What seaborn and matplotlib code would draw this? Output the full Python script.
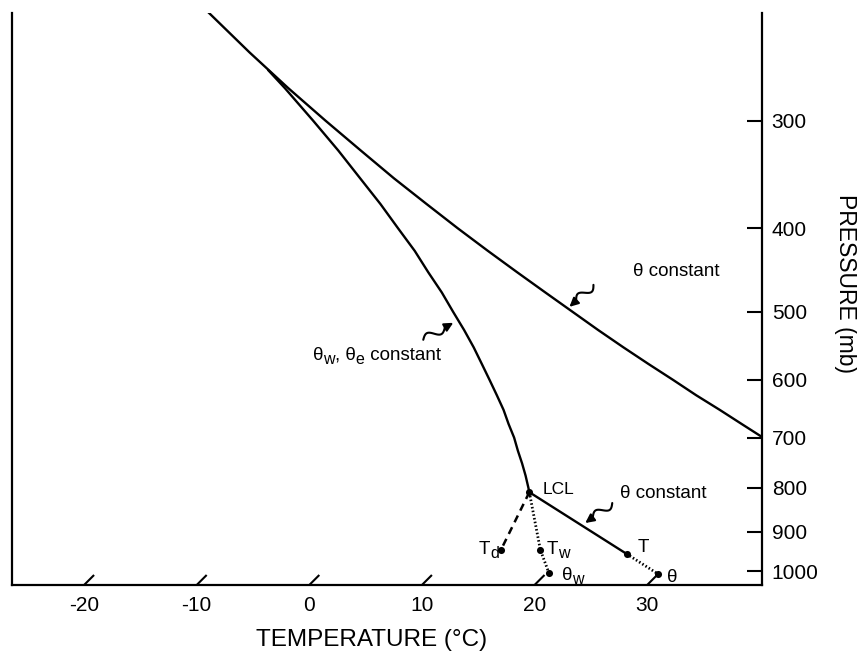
import numpy as np
import pandas as pd
import matplotlib
matplotlib.use("Agg")
import matplotlib.pyplot as plt
import seaborn as sns

# ---------------- data (temperature in deg C, pressure in mb) ----------------
dry_upper_p = [222, 250, 275, 300, 325, 350, 375, 400, 425, 450, 475, 500, 525, 550,
               575, 600, 625, 650, 675, 700, 720]
dry_upper_T = [-60.6, -52.6, -46.0, -39.8, -34.0, -28.6, -23.4, -18.5, -13.8, -9.3, -5.0,
               -0.9, 3.0, 6.8, 10.5, 14.1, 17.5, 20.9, 24.1, 27.2, 29.7]

moist_p = [262, 275, 300, 325, 350, 375, 400, 425, 450, 475, 500, 525, 550, 575, 600,
           625, 650, 675, 700, 725, 750, 775, 800, 810]
moist_T = [-49.4, -46.3, -40.9, -36.0, -31.6, -27.5, -23.8, -20.3, -17.2, -14.2, -11.5,
           -8.9, -6.5, -4.3, -2.2, -0.2, 1.7, 3.4, 5.1, 6.6, 8.1, 9.5, 10.8, 11.3]

dry_lower_T = [11.3, 25.4]          # LCL -> T (solid)
dry_lower_p = [810, 955]
dry_ext_T = [25.4, 30.0]            # T -> theta (dotted)
dry_ext_p = [955, 1008]

dew_T = [11.3, 13.9]                # LCL -> Td (dashed)
dew_p = [810, 945]
wet_T = [11.3, 17.4, 20.2]          # LCL -> Tw -> theta_w (dotted)
wet_p = [810, 945, 1005]

point_names = ["LCL", "Td", "Tw", "θw", "T", "θ"]
point_T = [11.3, 13.9, 17.4, 20.2, 25.4, 30.0]
point_p = [810, 945, 945, 1005, 955, 1008]

temp_ticks = [-20, -10, 0, 10, 20, 30]
pres_ticks = [300, 400, 500, 600, 700, 800, 900, 1000]

# ---------------- style ----------------
sns.set_style("white")
plt.rcParams["font.family"] = ["Liberation Sans", "DejaVu Sans"]

W, H = 857, 658
fig = plt.figure(figsize=(W / 100, H / 100), dpi=100)
fig.patch.set_facecolor("white")
ax_l, ax_r, ax_t, ax_b = 12, 762, 13, 585
ax = fig.add_axes([ax_l / W, 1 - ax_b / H, (ax_r - ax_l) / W, (ax_b - ax_t) / H])

P_BOT, P_TOP = 1038.0, 225.0
X_MIN, X_MAX = -26.4, 40.2
# skew so that isotherms run at 45 degrees on screen
px_per_ln = (ax_b - ax_t) / np.log(P_BOT / P_TOP)
px_per_deg = (ax_r - ax_l) / (X_MAX - X_MIN)
K = px_per_ln / px_per_deg


def skew(T, p):
    return np.asarray(T, float) + K * np.log(P_BOT / np.asarray(p, float))


def frame(T, p, name):
    return pd.DataFrame({"x": skew(T, p), "p": np.asarray(p, float), "curve": name})


ax.set_yscale("log")
ax.set_xlim(X_MIN, X_MAX)
ax.set_ylim(P_BOT, P_TOP)

lw = 1.7
dot_ls = (0, (0.55, 0.8))
sns.lineplot(data=frame(dry_upper_T, dry_upper_p, "a"), x="x", y="p", sort=False,
             estimator=None, color="black", lw=lw, ax=ax)
sns.lineplot(data=frame(moist_T, moist_p, "b"), x="x", y="p", sort=False,
             estimator=None, color="black", lw=lw, ax=ax)
sns.lineplot(data=frame(dry_lower_T, dry_lower_p, "c"), x="x", y="p", sort=False,
             estimator=None, color="black", lw=lw, ax=ax)
sns.lineplot(data=frame(dry_ext_T, dry_ext_p, "d"), x="x", y="p", sort=False,
             estimator=None, color="black", lw=2.0, ls=dot_ls, ax=ax)
sns.lineplot(data=frame(dew_T, dew_p, "e"), x="x", y="p", sort=False,
             estimator=None, color="black", lw=1.8, ls=(0, (3, 2.2)), ax=ax)
sns.lineplot(data=frame(wet_T, wet_p, "f"), x="x", y="p", sort=False,
             estimator=None, color="black", lw=2.0, ls=dot_ls, ax=ax)
sns.scatterplot(data=frame(point_T, point_p, "pts"), x="x", y="p", color="black",
                s=26, edgecolor="black", linewidth=0, ax=ax, zorder=5)

ax.set_xlabel("")
ax.set_ylabel("")

# spines
for side in ["left", "right", "bottom"]:
    ax.spines[side].set_visible(True)
    ax.spines[side].set_color("black")
    ax.spines[side].set_linewidth(1.6)
ax.spines["top"].set_visible(False)

# y axis on right, inward ticks
ax.yaxis.tick_right()
ax.set_yticks(pres_ticks)
ax.set_yticklabels([str(v) for v in pres_ticks])
ax.yaxis.set_minor_locator(matplotlib.ticker.NullLocator())
ax.tick_params(axis="y", which="major", direction="in", length=11, width=1.5,
               labelsize=15, pad=7, colors="black", left=False, right=True)

# x axis: labels at bottom, slanted isotherm tick marks drawn along skew
ax.set_xticks(temp_ticks)
ax.set_xticklabels([str(v) for v in temp_ticks])
ax.tick_params(axis="x", length=0, labelsize=15, pad=8, colors="black")
d = 10.0 / px_per_ln
for t in temp_ticks:
    ax.plot([t, t + K * d], [P_BOT, P_BOT * np.exp(-d)], color="black", lw=1.5,
            clip_on=False, solid_capstyle="butt")

ax.grid(False)

renderer = fig.canvas.get_renderer()


def ftext(x, y, s, **kw):
    kw.setdefault("fontsize", 13.5)
    kw.setdefault("color", "black")
    return fig.text(x / W, 1 - y / H, s, **kw)


def seg_text(x, y, segments, size=13.5, subsize=11.5, drop=5):
    cx = x
    for s, sub in segments:
        t = ftext(cx, y + (drop if sub else 0), s, fontsize=subsize if sub else size,
                  ha="left", va="center")
        cx += t.get_window_extent(renderer).width


ftext(372, 640, "TEMPERATURE (°C)", fontsize=17.5, ha="center", va="center")
ftext(845, 283, "PRESSURE (mb)", fontsize=16.5, ha="center", va="center", rotation=270)

ftext(633, 271, "θ constant", ha="left", va="center")
ftext(620, 494, "θ constant", ha="left", va="center")
seg_text(313, 355, [("θ", False), ("w", True), (", θ", False), ("e", True), (" constant", False)])
ftext(543, 490, "LCL", fontsize=12.5, ha="left", va="center")
seg_text(479, 549, [("T", False), ("d", True)])
seg_text(547, 549, [("T", False), ("w", True)])
seg_text(562, 575, [("θ", False), ("w", True)])
ftext(638, 547, "T", ha="left", va="center")
ftext(667, 577, "θ", ha="left", va="center")


def squiggle(T, p, dx, dy):
    tip = ax.transData.transform((skew(T, p), p))
    tail = tip + np.array([dx, dy], float)
    vec = tip - tail
    L = np.hypot(*vec)
    u = vec / L
    n = np.array([-u[1], u[0]])
    t = np.linspace(0, 0.72, 60)
    amp = 4.0 * np.sin(np.pi * t / 0.72 * 2.0)
    pts = tail + np.outer(t * L, u) + np.outer(amp, n)
    data = ax.transData.inverted().transform(pts)
    ax.plot(data[:, 0], data[:, 1], color="black", lw=1.5, clip_on=False)
    start = ax.transData.inverted().transform(pts[-1])
    ax.annotate("", xy=(skew(T, p), p), xytext=(start[0], start[1]),
                arrowprops=dict(arrowstyle="-|>", color="black", lw=1.5,
                                mutation_scale=13, shrinkA=0, shrinkB=0))


squiggle(-1.6, 493.5, 24, 22)
squiggle(19.0, 879.5, 27, 20)
squiggle(-10.5, 515, -30, -17)

fig.savefig("out.png", dpi=100, facecolor="white")
